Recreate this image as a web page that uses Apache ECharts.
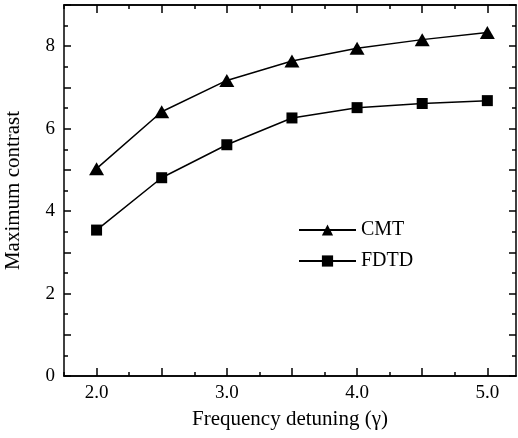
<!DOCTYPE html>
<html><head><meta charset="utf-8">
<script src="https://cdn.jsdelivr.net/npm/echarts@6/dist/echarts.min.js"></script>
<style>html,body{margin:0;padding:0;background:#fff}#c{width:518px;height:438px}</style>
</head><body><div id="c"></div>
<script>
var detuning = [2.0, 2.5, 3.0, 3.5, 4.0, 4.5, 5.0];
var cmt = [5.03, 6.41, 7.17, 7.64, 7.95, 8.16, 8.33];
var fdtd = [3.54, 4.81, 5.61, 6.26, 6.51, 6.61, 6.68];
var xLabelValues = [2, 3, 4, 5];
var xMajorTicks = [2, 2.5, 3, 3.5, 4, 4.5, 5];
var xMinorTicks = [1.75, 2.25, 2.75, 3.25, 3.75, 4.25, 4.75];

var font = 'Liberation Serif';
function pairs(xs, ys){ return xs.map(function(x,i){ return [x, ys[i]]; }); }
function xAxisDef(pos, ticks, len, labels, name){
  var a = {
    type:'value', position:pos, min:1.75, max:5.22,
    axisLine:{show:true, onZero:false, lineStyle:{color:'#000', width:1.5}},
    axisTick:{show:true, inside:true, length:len, customValues:ticks, lineStyle:{color:'#000', width:1.5}},
    axisLabel:{show:!!labels, customValues:labels || [], color:'#000', fontFamily:font, fontSize:19, margin:8,
      formatter:function(v){ return v.toFixed(1); }},
    splitLine:{show:false}
  };
  if(name){
    a.name = name; a.nameLocation='middle'; a.nameGap=33;
    a.nameTextStyle = {color:'#000', fontFamily:font, fontSize:21};
  }
  return a;
}
function yAxisDef(pos, labels, name){
  var a = {
    type:'value', position:pos, min:0, max:9, interval:1,
    axisLine:{show:true, onZero:false, lineStyle:{color:'#000', width:1.5}},
    axisTick:{show:true, inside:true, length:7, lineStyle:{color:'#000', width:1.5}},
    minorTick:{show:true, splitNumber:2, length:4, lineStyle:{color:'#000', width:1.5}},
    axisLabel:{show:labels, color:'#000', fontFamily:font, fontSize:19, margin:9,
      formatter:function(v){ return (v % 2 === 0) ? String(v) : ''; }},
    splitLine:{show:false}, minorSplitLine:{show:false}
  };
  if(name){
    a.name = name; a.nameLocation='middle'; a.nameGap=40;
    a.nameTextStyle = {color:'#000', fontFamily:font, fontSize:21};
  }
  return a;
}
var chart = echarts.init(document.getElementById('c'));
chart.setOption({
  animation:false,
  backgroundColor:'#fff',
  grid:{left:64, right:2, top:5, bottom:62, containLabel:false, outerBoundsMode:'none'},
  legend:{
    orient:'vertical', left:293, top:215, itemWidth:57, itemHeight:14, itemGap:11,
    textStyle:{color:'#000', fontFamily:font, fontSize:20},
    data:['CMT','FDTD']
  },
  xAxis:[
    xAxisDef('bottom', xMajorTicks, 8, xLabelValues, 'Frequency detuning (\u03b3)'),
    xAxisDef('bottom', xMinorTicks, 4, null, null),
    xAxisDef('top', xMajorTicks, 8, null, null),
    xAxisDef('top', xMinorTicks, 4, null, null)
  ],
  yAxis:[
    yAxisDef('left', true, 'Maximum contrast'),
    yAxisDef('right', false, null)
  ],
  series:[
    {name:'CMT', type:'line', xAxisIndex:0, yAxisIndex:0, data:pairs(detuning, cmt),
     symbol:'triangle', symbolSize:[15,13], color:'#000',
     lineStyle:{color:'#000', width:1.5}, itemStyle:{color:'#000'}},
    {name:'FDTD', type:'line', xAxisIndex:0, yAxisIndex:0, data:pairs(detuning, fdtd),
     symbol:'rect', symbolSize:11, color:'#000',
     lineStyle:{color:'#000', width:1.5}, itemStyle:{color:'#000'}}
  ]
});
</script></body></html>
